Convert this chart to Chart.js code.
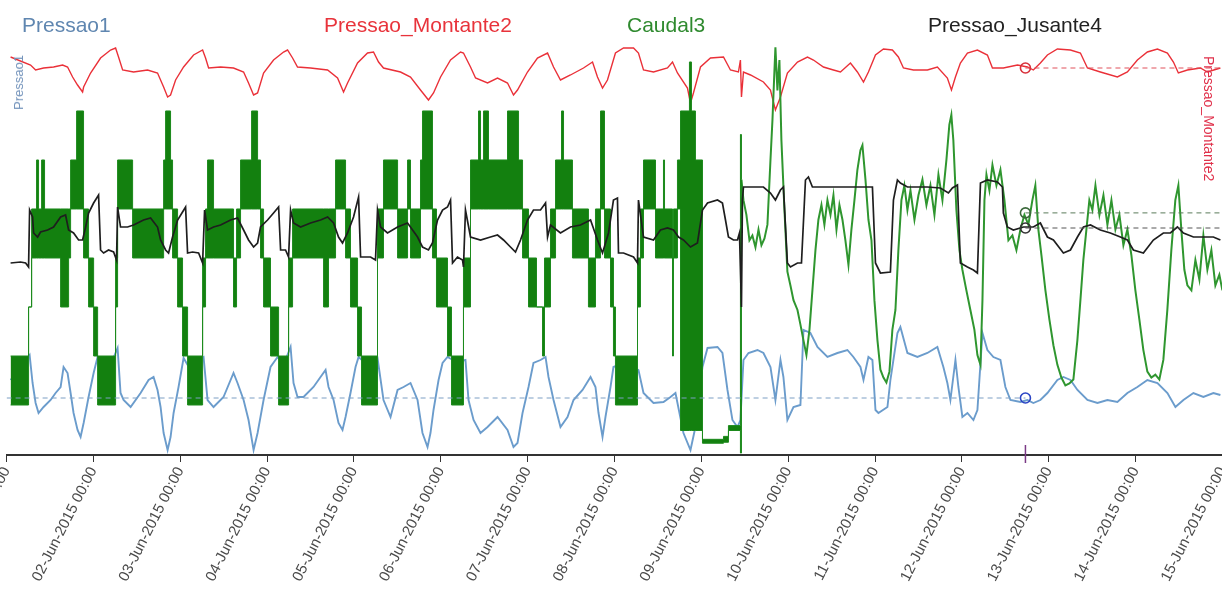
<!DOCTYPE html>
<html lang="pt">
<head>
    <meta charset="UTF-8">
    <title>Pressao / Caudal</title>
    <style>
        body { margin: 0; background: #fff; overflow: hidden; font-family: "Liberation Sans", Arial, sans-serif; }
        #wrap { position: relative; width: 1222px; height: 594px; overflow: hidden; }
        #box { position: absolute; left: 0; top: 0; width: 1229px; height: 594px; }
        .lg { position: absolute; top: 14px; font-size: 21px; line-height: 21px; white-space: nowrap; }
        .ytit { position: absolute; writing-mode: vertical-rl; white-space: nowrap; }
    </style>
</head>
<body>
<div id="wrap">
    <div id="box"><canvas id="chart"></canvas></div>
    <div class="lg" style="left:22px;color:#5f86b0">Pressao1</div>
    <div class="lg" style="left:324px;color:#e8333b">Pressao_Montante2</div>
    <div class="lg" style="left:627px;color:#2f8a2f">Caudal3</div>
    <div class="lg" style="left:928px;color:#222">Pressao_Jusante4</div>
    <div class="ytit" style="left:12px;top:55px;font-size:13px;line-height:14px;color:#7393bb;transform:rotate(180deg)">Pressao1</div>
    <div class="ytit" style="left:1202px;top:56px;font-size:14px;line-height:14px;color:#e0304a">Pressao_Montante2</div>
</div>

<script src="https://cdn.jsdelivr.net/npm/chart.js"></script>
<script>
    // eixo x em dias de junho 2015
    const diasEixo = [1, 2, 3, 4, 5, 6, 7, 8, 9, 10, 11, 12, 13, 14, 15];

    // Pressao_Montante2 [dia, valor]
    const montante = [
        [1.046,69.7],[1.276,68.9],[1.334,68.4],[1.426,68.6],[1.541,68.7],[1.645,68.9],[1.702,68.7],[1.760,67.7],[1.817,66.9],[1.875,66.2],
        [1.887,66.7],[1.967,68.1],[2.082,69.6],[2.197,70.4],[2.255,70.6],[2.289,69.7],[2.336,68.4],[2.462,68.2],[2.623,68.4],[2.738,68.1],
        [2.808,66.7],[2.854,65.7],[2.888,65.9],[2.946,67.4],[3.038,68.7],[3.153,69.9],[3.257,70.4],[3.291,69.6],[3.326,68.6],[3.464,68.7],
        [3.613,68.6],[3.729,68.2],[3.786,67.1],[3.844,65.9],[3.890,66.1],[3.959,68.1],[4.074,69.4],[4.189,70.2],[4.235,70.4],[4.293,69.6],
        [4.350,68.7],[4.500,68.6],[4.696,68.4],[4.811,67.6],[4.880,66.2],[4.926,67.1],[5.041,69.1],[5.156,70.1],[5.225,70.2],[5.283,69.2],
        [5.340,68.6],[5.536,68.2],[5.651,67.7],[5.766,66.4],[5.858,65.4],[5.916,66.1],[5.997,67.7],[6.112,69.4],[6.227,70.2],[6.261,70.1],
        [6.342,68.7],[6.400,67.6],[6.538,67.1],[6.653,67.6],[6.768,67.1],[6.837,65.9],[6.883,66.4],[6.998,68.2],[7.113,69.6],[7.229,70.1],
        [7.298,68.7],[7.378,67.4],[7.493,67.9],[7.643,68.6],[7.747,69.2],[7.804,67.7],[7.862,66.6],[7.919,67.4],[8.011,70.1],[8.104,70.6],
        [8.219,70.6],[8.276,70.1],[8.334,68.4],[8.449,68.2],[8.610,68.6],[8.668,69.2],[8.725,68.1],[8.840,66.6],[8.875,65.1],[8.909,66.1],
        [8.990,68.7],[9.105,69.6],[9.255,69.7],[9.335,68.4],[9.427,68.2],[9.450,69.4],[9.462,65.7],[9.485,68.2],[9.566,67.9],[9.715,67.2],
        [9.796,66.4],[9.853,64.4],[9.911,65.7],[9.991,68.1],[10.107,69.2],[10.222,69.7],[10.291,69.4],[10.406,68.7],[10.521,68.4],[10.602,68.2],
        [10.717,69.1],[10.797,68.2],[10.867,67.2],[10.924,68.2],[11.005,69.9],[11.097,70.5],[11.200,70.4],[11.269,69.7],[11.327,68.6],[11.442,68.4],
        [11.603,68.4],[11.718,68.7],[11.833,67.6],[11.880,66.4],[11.926,67.7],[11.983,69.1],[12.064,70.1],[12.179,70.4],[12.294,69.9],[12.352,68.6],
        [12.478,68.6],[12.640,68.9],[12.755,68.7],[12.823,68.4],[12.904,69.1],[12.985,69.9],[13.100,70.5],[13.250,70.4],[13.365,70.1],[13.446,68.6],
        [13.595,68.2],[13.791,67.7],[13.906,68.2],[14.021,69.4],[14.136,70.2],[14.252,70.5],[14.367,70.1],[14.436,69.2],[14.493,68.1],[14.597,68.4],
        [14.747,68.6],[14.827,68.2],[14.977,68.6]
    ];

    // Pressao1 [dia, valor]
    const pressao1 = [
        [1.046,27.4],[1.265,29.9],[1.299,27.1],[1.334,25.1],[1.368,24.1],[1.426,24.7],[1.507,25.4],[1.564,26.1],[1.622,26.7],[1.656,28.7],
        [1.702,28.1],[1.737,26.1],[1.771,24.1],[1.817,22.4],[1.852,21.7],[1.887,23.1],[1.944,25.7],[2.002,28.1],[2.048,29.7],[2.140,27.9],
        [2.220,29.4],[2.278,30.6],[2.312,26.1],[2.347,25.4],[2.428,24.7],[2.543,26.1],[2.635,27.4],[2.692,27.7],[2.738,26.4],[2.773,24.7],
        [2.808,22.1],[2.854,20.4],[2.888,21.7],[2.923,24.1],[2.980,26.7],[3.038,29.6],[3.118,28.4],[3.199,29.4],[3.268,29.7],[3.314,25.4],
        [3.383,24.7],[3.498,25.7],[3.613,28.1],[3.659,27.1],[3.729,25.4],[3.786,23.4],[3.844,20.4],[3.890,22.1],[3.959,25.4],[4.039,28.7],
        [4.120,29.7],[4.189,28.9],[4.270,30.7],[4.304,27.1],[4.350,25.7],[4.419,25.7],[4.534,26.7],[4.615,27.7],[4.673,28.4],[4.707,26.7],
        [4.765,25.4],[4.822,23.1],[4.868,22.4],[4.903,23.7],[4.960,26.1],[5.018,28.7],[5.053,29.7],[5.156,28.9],[5.271,29.6],[5.340,25.4],
        [5.421,23.7],[5.502,26.4],[5.571,26.7],[5.651,27.1],[5.732,25.4],[5.789,22.1],[5.847,20.7],[5.881,22.1],[5.916,24.4],[5.974,27.4],
        [6.020,29.1],[6.077,29.7],[6.181,29.2],[6.284,29.4],[6.319,25.4],[6.377,23.4],[6.457,22.1],[6.538,22.7],[6.653,23.7],[6.768,22.4],
        [6.837,20.7],[6.883,21.1],[6.941,24.1],[7.010,26.7],[7.067,29.1],[7.148,29.4],[7.206,29.7],[7.240,27.7],[7.298,25.4],[7.378,22.7],
        [7.459,23.7],[7.528,25.4],[7.632,26.4],[7.724,27.7],[7.781,26.7],[7.816,24.1],[7.862,21.7],[7.896,23.7],[7.954,26.7],[7.988,28.7],
        [8.127,29.2],[8.276,28.4],[8.334,26.1],[8.449,25.1],[8.564,25.2],[8.645,25.7],[8.702,26.1],[8.794,22.1],[8.875,20.4],[8.932,22.7],
        [9.013,28.7],[9.071,30.6],[9.186,30.7],[9.243,30.1],[9.301,26.4],[9.358,23.4],[9.416,22.7],[9.450,23.4],[9.485,29.4],[9.543,30.1],
        [9.646,30.4],[9.715,30.1],[9.796,28.7],[9.853,25.4],[9.911,29.4],[9.945,27.7],[9.991,23.4],[10.061,24.7],[10.141,24.9],[10.176,32.4],
        [10.256,32.1],[10.337,30.7],[10.452,29.7],[10.567,30.1],[10.682,30.4],[10.751,29.7],[10.832,28.7],[10.867,27.4],[10.924,29.7],[10.970,29.4],
        [11.005,24.4],[11.039,24.1],[11.143,24.7],[11.177,27.4],[11.258,32.1],[11.292,32.7],[11.373,30.1],[11.488,29.7],[11.603,30.1],[11.718,30.7],
        [11.787,28.7],[11.833,27.1],[11.868,25.4],[11.926,29.4],[11.960,26.7],[12.006,23.7],[12.064,24.1],[12.133,23.4],[12.179,24.4],[12.237,32.1],
        [12.294,30.4],[12.363,29.7],[12.444,29.4],[12.501,26.7],[12.559,25.4],[12.674,25.2],[12.755,25.4],[12.823,25.1],[12.904,25.4],[12.985,26.1],
        [13.100,27.4],[13.169,27.7],[13.250,27.4],[13.331,26.4],[13.446,25.4],[13.561,25.1],[13.676,25.4],[13.791,25.2],[13.906,26.1],[14.021,26.7],
        [14.136,27.4],[14.252,27.1],[14.367,26.1],[14.459,24.7],[14.551,25.4],[14.666,26.1],[14.781,25.7],[14.896,26.1],[14.977,25.9]
    ];

    // Pressao_Jusante4 [dia, valor]
    const jusante = [
        [1.046,39.1],[1.161,39.2],[1.219,39.1],[1.253,38.7],[1.265,44.4],[1.299,43.7],[1.311,42.1],[1.357,41.7],[1.391,42.2],[1.472,42.4],
        [1.541,42.7],[1.622,43.7],[1.679,43.9],[1.714,42.4],[1.771,42.1],[1.829,41.4],[1.875,41.4],[1.910,42.7],[1.944,44.1],[2.002,45.1],
        [2.059,45.9],[2.082,40.4],[2.117,40.1],[2.174,40.4],[2.232,40.2],[2.266,39.4],[2.278,44.7],[2.312,42.7],[2.393,42.7],[2.462,42.9],
        [2.577,43.4],[2.658,43.6],[2.738,42.7],[2.773,41.4],[2.831,40.4],[2.865,40.1],[2.911,41.7],[2.969,43.4],[3.026,44.2],[3.061,44.7],
        [3.084,40.1],[3.141,40.2],[3.211,40.1],[3.257,39.1],[3.280,44.4],[3.314,42.4],[3.383,42.7],[3.464,42.9],[3.579,43.4],[3.659,43.6],
        [3.729,42.4],[3.786,41.4],[3.844,40.7],[3.890,41.1],[3.924,42.7],[4.005,43.4],[4.074,44.1],[4.132,44.7],[4.155,40.4],[4.212,40.4],
        [4.247,39.7],[4.270,44.4],[4.304,43.1],[4.385,42.7],[4.500,43.1],[4.615,43.4],[4.696,43.7],[4.765,43.1],[4.822,41.7],[4.868,41.1],
        [4.926,42.1],[4.995,43.7],[5.053,45.7],[5.076,39.7],[5.110,39.7],[5.191,39.7],[5.248,39.4],[5.271,44.4],[5.306,42.7],[5.386,42.1],
        [5.502,42.7],[5.617,43.1],[5.732,41.7],[5.789,40.7],[5.858,40.4],[5.904,41.1],[5.962,43.4],[6.020,44.4],[6.077,44.7],[6.112,45.4],
        [6.135,39.1],[6.192,39.7],[6.250,39.4],[6.261,38.7],[6.284,44.4],[6.342,41.7],[6.457,41.4],[6.572,41.7],[6.653,41.9],[6.722,41.4],
        [6.802,40.7],[6.860,40.2],[6.918,41.4],[6.998,43.4],[7.067,44.4],[7.148,44.4],[7.206,45.1],[7.229,41.7],[7.263,42.9],[7.378,42.1],
        [7.493,42.7],[7.608,42.9],[7.724,43.4],[7.804,41.4],[7.862,40.1],[7.931,42.1],[7.988,45.4],[8.034,45.6],[8.046,40.1],[8.104,40.1],
        [8.219,39.7],[8.265,39.1],[8.276,45.4],[8.334,41.7],[8.449,41.4],[8.529,42.4],[8.610,42.6],[8.679,42.4],[8.737,41.7],[8.794,41.4],
        [8.875,40.7],[8.955,41.1],[9.013,44.4],[9.071,45.1],[9.186,45.4],[9.243,45.1],[9.278,43.4],[9.312,41.7],[9.370,41.4],[9.416,41.4],
        [9.439,42.1],[9.462,34.7],[9.473,45.4],[9.485,46.7],[9.600,46.7],[9.715,46.7],[9.796,46.1],[9.853,45.4],[9.911,46.4],[9.945,46.7],
        [9.991,39.1],[10.026,38.7],[10.107,39.1],[10.153,39.1],[10.199,47.4],[10.233,47.7],[10.279,46.7],[10.521,46.7],[10.717,46.7],[10.913,46.7],
        [10.970,46.7],[11.005,39.1],[11.062,38.1],[11.177,38.2],[11.212,45.4],[11.258,47.4],[11.292,47.1],[11.373,46.7],[11.603,46.7],[11.752,46.6],
        [11.845,46.1],[11.891,46.6],[11.949,46.9],[11.983,39.1],[12.064,38.7],[12.133,38.4],[12.179,38.1],[12.214,47.1],[12.294,47.4],[12.409,47.2],
        [12.467,46.7],[12.478,44.1],[12.524,42.7],[12.593,42.4],[12.709,42.7],[12.823,42.7],[12.904,43.1],[12.985,41.7],[13.054,41.4],[13.169,40.1],
        [13.250,40.4],[13.331,41.7],[13.400,42.7],[13.481,42.9],[13.595,42.4],[13.710,42.1],[13.825,41.7],[13.906,41.4],[13.975,40.4],[14.090,40.1],
        [14.205,41.4],[14.320,42.1],[14.401,42.1],[14.482,42.7],[14.551,42.1],[14.666,41.7],[14.781,41.7],[14.896,41.7],[14.977,41.4]
    ];

    // Caudal3 ate 9-Jun: valores em degraus [dia, minimo, maximo] (faixa de comutacao rapida)
    const caudalDegraus = [
        [1.046,5,10],[1.253,15,15],[1.288,20,25],[1.345,20,30],[1.368,20,25],[1.403,20,30],[1.437,20,25],[1.622,15,25],[1.714,20,25],[1.737,25,30],
        [1.806,25,35],[1.886,20,25],[1.944,15,20],[2.002,10,15],[2.048,5,10],
        [2.255,15,20],[2.278,25,30],[2.451,20,25],[2.808,25,30],[2.831,25,35],[2.888,25,30],[2.911,20,25],[2.969,15,20],[3.026,10,15],[3.084,5,10],
        [3.257,15,20],[3.291,20,25],[3.314,20,30],[3.383,20,25],[3.613,15,20],[3.648,20,25],[3.694,25,30],[3.821,25,35],[3.890,25,30],[3.924,20,25],
        [3.959,15,20],[4.039,10,15],[4.132,5,10],
        [4.247,15,20],[4.293,20,25],[4.650,15,25],[4.707,20,25],[4.788,25,30],[4.903,20,25],[4.960,15,20],[5.041,10,15],[5.087,5,10],
        [5.271,20,25],[5.340,25,30],[5.502,20,25],[5.617,25,30],[5.651,20,25],[5.766,25,30],[5.789,25,35],[5.904,20,25],[5.950,15,20],[6.077,10,15],
        [6.123,5,10],
        [6.261,15,20],[6.342,25,30],[6.434,25,35],[6.457,25,30],[6.492,25,35],[6.549,25,30],[6.768,25,35],[6.895,25,30],[6.941,20,25],[7.010,15,20],
        [7.102,15,15],[7.171,10,15],[7.194,15,20],[7.263,20,25],[7.321,25,30],[7.390,25,35],[7.413,25,30],[7.516,20,25],[7.700,15,20],[7.781,20,25],
        [7.839,25,35],[7.885,20,25],[7.954,15,20],[7.988,10,15],[8.011,5,10],
        [8.265,15,20],[8.299,20,25],[8.334,25,30],[8.472,20,25],[8.564,20,30],[8.576,20,25],[8.668,10,20],[8.679,20,25],[8.725,25,30],[8.760,2.4,35],
        [8.863,2.4,40],[8.886,2.4,35],[8.932,2.4,30],[9.013,1.1,1.5],[9.255,1.2,1.8],[9.312,2.4,2.9],[9.450,0.1,32.6],[9.462,28,28]
    ];

    // Caudal3 a partir de 9-Jun (sinal continuo) [dia, valor]
    const caudalContinuo = [
        [9.462,28.0],[9.485,25.9],[9.519,24.4],[9.554,21.8],[9.588,22.3],[9.623,21.1],[9.658,22.9],[9.692,21.3],[9.727,22.0],[9.761,23.4],
        [9.796,30.0],[9.819,34.1],[9.842,39.2],[9.853,41.5],[9.876,37.1],[9.899,40.2],[9.922,32.0],[9.957,24.9],[9.991,18.6],[10.026,17.2],
        [10.061,15.7],[10.107,14.7],[10.141,13.2],[10.176,11.6],[10.210,10.1],[10.245,12.7],[10.279,16.7],[10.314,20.8],[10.348,23.9],[10.383,25.4],
        [10.417,23.4],[10.452,25.9],[10.487,24.4],[10.521,26.4],[10.556,22.9],[10.590,25.4],[10.625,23.9],[10.659,21.8],[10.694,19.3],[10.728,22.9],
        [10.763,25.9],[10.797,29.0],[10.832,31.0],[10.855,31.5],[10.890,28.0],[10.924,23.9],[10.959,21.8],[10.993,15.7],[11.028,11.6],[11.062,8.6],
        [11.097,7.8],[11.131,7.3],[11.166,8.4],[11.200,12.7],[11.235,14.7],[11.269,20.8],[11.304,25.9],[11.338,27.4],[11.373,24.9],[11.408,26.9],
        [11.454,23.9],[11.500,26.4],[11.546,28.0],[11.592,25.4],[11.638,27.4],[11.684,24.4],[11.730,28.5],[11.776,25.9],[11.822,30.0],[11.856,33.6],
        [11.879,34.6],[11.902,32.0],[11.937,24.9],[11.972,20.8],[12.006,18.8],[12.052,16.7],[12.098,14.7],[12.144,12.7],[12.179,10.1],[12.214,9.1],
        [12.237,15.7],[12.260,25.9],[12.283,28.5],[12.317,26.9],[12.352,29.5],[12.398,27.4],[12.444,29.0],[12.490,25.9],[12.536,21.8],[12.582,22.3],
        [12.628,20.8],[12.674,22.9],[12.720,24.4],[12.766,23.4],[12.812,25.9],[12.846,27.4],[12.881,22.9],[12.916,20.3],[12.962,16.7],[13.008,13.7],
        [13.054,11.1],[13.100,9.1],[13.146,7.8],[13.192,7.0],[13.238,7.2],[13.284,7.6],[13.330,11.6],[13.365,15.7],[13.399,19.8],[13.434,22.9],
        [13.468,25.9],[13.503,24.9],[13.538,27.4],[13.584,24.4],[13.630,26.4],[13.676,23.4],[13.722,25.9],[13.768,22.9],[13.814,24.4],[13.860,21.3],
        [13.906,22.9],[13.952,20.3],[13.998,16.7],[14.044,13.7],[14.090,10.6],[14.136,8.4],[14.182,7.8],[14.228,8.1],[14.274,7.6],[14.320,9.6],
        [14.366,14.7],[14.412,20.8],[14.458,25.9],[14.493,27.4],[14.527,22.9],[14.562,18.8],[14.597,17.2],[14.643,16.7],[14.689,19.8],[14.735,17.8],
        [14.781,22.3],[14.827,18.8],[14.873,20.8],[14.919,17.2],[14.965,18.3],[15.000,16.7]
    ];

    // ponto seleccionado (cursor)
    const diaCursor = 12.732;
    const cursorPressao1 = 25.6;
    const cursorMontante = 68.6;
    const cursorCaudal = 24.6;
    const cursorJusante = 42.6;

    const xy = arr => arr.map(p => ({ x: p[0], y: p[1] }));
    const verde = '#1c8a1c';

    function guia(dados, cor, corPonto, eixo) {
        return {
            data: dados, yAxisID: eixo, borderColor: cor, borderWidth: 1, borderDash: [5, 4],
            pointRadius: c => (c.raw && c.raw.x === diaCursor ? 5 : 0),
            pointBorderColor: corPonto, pointBorderWidth: 1.6, pointBackgroundColor: 'rgba(0,0,0,0)',
            fill: false, order: -1
        };
    }

    // marca do cursor no eixo x
    const marcaCursor = {
        id: 'marcaCursor',
        afterDraw(chart) {
            const ctx = chart.ctx;
            const x = chart.scales.x.getPixelForValue(diaCursor);
            const b = chart.chartArea.bottom;
            ctx.save();
            ctx.strokeStyle = '#7b3a86';
            ctx.lineWidth = 1.5;
            ctx.beginPath();
            ctx.moveTo(x, b - 10);
            ctx.lineTo(x, b + 8);
            ctx.stroke();
            ctx.restore();
        }
    };

    const ctx = document.getElementById('chart').getContext('2d');
    new Chart(ctx, {
        type: 'line',
        data: {
            datasets: [
                { label: 'Pressao_Jusante4', data: xy(jusante), yAxisID: 'y4', borderColor: '#1e1e1e', borderWidth: 1.7, order: 0 },
                { label: 'Caudal3 min', data: caudalDegraus.map(p => ({ x: p[0], y: p[1] })), yAxisID: 'y3',
                  borderColor: verde, borderWidth: 1, stepped: true, order: 1 },
                { label: 'Caudal3', data: caudalDegraus.map(p => ({ x: p[0], y: p[2] })), yAxisID: 'y3',
                  borderColor: verde, borderWidth: 1, stepped: true, fill: '-1', backgroundColor: '#13800f', order: 1 },
                { label: 'Caudal3 continuo', data: xy(caudalContinuo), yAxisID: 'y3', borderColor: '#2f962f', borderWidth: 2, order: 1 },
                { label: 'Pressao1', data: xy(pressao1), yAxisID: 'y1', borderColor: '#6b9ccc', borderWidth: 1.9, order: 2 },
                { label: 'Pressao_Montante2', data: xy(montante), yAxisID: 'y2', borderColor: '#ea3038', borderWidth: 1.4, order: 3 },
                guia([{ x: 1, y: cursorPressao1 }, { x: diaCursor, y: cursorPressao1 }], '#7d9fc4', '#2a44c4', 'y1'),
                guia([{ x: diaCursor, y: cursorMontante }, { x: 15, y: cursorMontante }], '#e0505a', '#d8303a', 'y2'),
                guia([{ x: diaCursor, y: cursorCaudal }, { x: 15, y: cursorCaudal }], '#5a7a5a', '#3c6a3c', 'y3'),
                guia([{ x: diaCursor, y: cursorJusante }, { x: 15, y: cursorJusante }], '#555555', '#333333', 'y4')
            ]
        },
        options: {
            responsive: true,
            maintainAspectRatio: false,
            animation: false,
            events: [],
            layout: { padding: { top: 45, left: 6, right: 0, bottom: 0 } },
            elements: { point: { radius: 0 }, line: { tension: 0 } },
            plugins: { legend: { display: false }, tooltip: { enabled: false } },
            scales: {
                x: {
                    type: 'linear',
                    min: 1,
                    max: 15,
                    afterBuildTicks: s => { s.ticks = diasEixo.map(v => ({ value: v })); },
                    afterFit: s => { s.paddingLeft = 0; s.paddingRight = 0; s.height = 139; },
                    grid: { display: true, drawOnChartArea: false, drawTicks: true, tickLength: 7, color: '#333' },
                    border: { display: true, color: '#333', width: 2 },
                    ticks: {
                        autoSkip: false,
                        maxRotation: 63,
                        minRotation: 63,
                        padding: 2,
                        color: '#4a4a4a',
                        font: { family: '"Liberation Sans", Arial, sans-serif', size: 15 },
                        callback: v => String(v).padStart(2, '0') + '-Jun-2015 00:00'
                    }
                },
                y1: { display: false, min: 19.9, max: 60.9 },
                y2: { display: false, min: 29.9, max: 70.9 },
                y3: { display: false, min: -0.1, max: 41.73 },
                y4: { display: false, min: 19.9, max: 60.9 }
            }
        },
        plugins: [marcaCursor]
    });
</script>
</body>
</html>
